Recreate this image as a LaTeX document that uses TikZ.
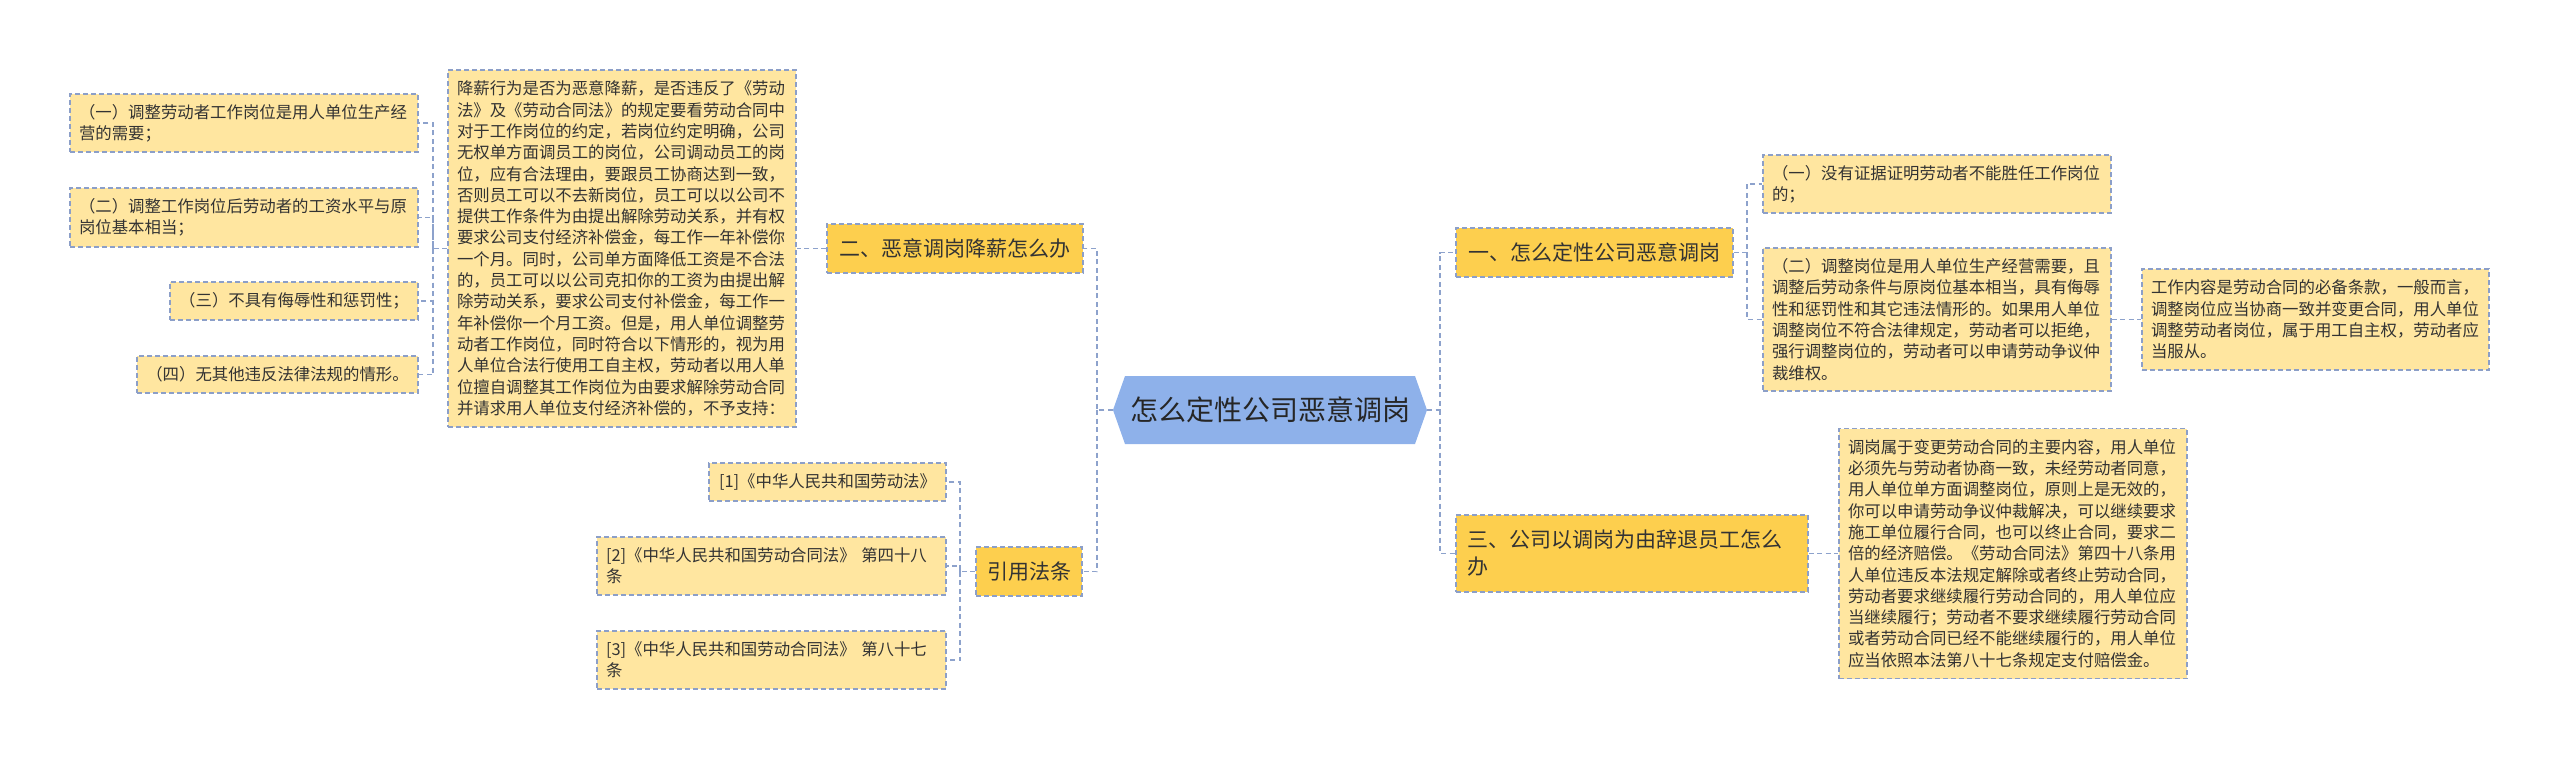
\documentclass[tikz,border=0pt]{standalone}
\usepackage{fontspec}
\setmainfont{Noto Sans CJK SC}
\definecolor{lightfill}{HTML}{FFE6A0}
\definecolor{goldfill}{HTML}{FDCF4E}
\definecolor{centerfill}{HTML}{8EB1EA}
\definecolor{bordercol}{HTML}{8C9FC8}
\definecolor{conncol}{HTML}{8DA2CC}
\definecolor{textcol}{HTML}{333333}
\tikzset{
  leafbox/.style={draw=bordercol, line width=1.2pt, dash pattern=on 5pt off 3pt,
    fill=lightfill, inner xsep=9pt, inner ysep=3pt, align=left, text=textcol,
    font=\fontsize{16.4}{21.3}\selectfont},
  branchbox/.style={leafbox, fill=goldfill, inner xsep=11pt, font=\fontsize{21}{27}\selectfont},
  conn/.style={draw=conncol, line width=1.8pt, dash pattern=on 5pt off 3.5pt},
}
\begin{document}
\begin{tikzpicture}[x=1pt,y=-1pt]
\useasboundingbox (0,0) rectangle (2560,761);
% central node
\fill[centerfill] (1113,410) -- (1125,376) -- (1415,376) -- (1427,410) -- (1415,444) -- (1125,444) -- cycle;
\node[minimum width=314pt, minimum height=68pt, inner sep=0pt, text=black!85,
  font=\fontsize{28}{34}\selectfont] (c) at (1270,410) {怎么定性公司恶意调岗};

% branches
\node[branchbox, minimum width=256pt, minimum height=49pt, align=center] (b2) at (955,248.5) {二、恶意调岗降薪怎么办};
\node[branchbox, minimum width=106pt, minimum height=49pt, inner xsep=4pt, align=center] (b4) at (1029,571.5) {引用法条};
\node[branchbox, minimum width=277pt, minimum height=49pt, align=center] (b1) at (1594.5,252.5) {一、怎么定性公司恶意调岗};
\node[branchbox, text width=330pt, minimum height=77pt] (b3) at (1632,553.5) {三、公司以调岗为由辞退员工怎么\\办};

% left big text
\node[leafbox, text width=330pt, minimum height=357pt] (big) at (622,248.5) {降薪行为是否为恶意降薪，是否违反了《劳动\\法》及《劳动合同法》的规定要看劳动合同中\\对于工作岗位的约定，若岗位约定明确，公司\\无权单方面调员工的岗位，公司调动员工的岗\\位，应有合法理由，要跟员工协商达到一致，\\否则员工可以不去新岗位，员工可以以公司不\\提供工作条件为由提出解除劳动关系，并有权\\要求公司支付经济补偿金，每工作一年补偿你\\一个月。同时，公司单方面降低工资是不合法\\的，员工可以以公司克扣你的工资为由提出解\\除劳动关系，要求公司支付补偿金，每工作一\\年补偿你一个月工资。但是，用人单位调整劳\\动者工作岗位，同时符合以下情形的，视为用\\人单位合法行使用工自主权，劳动者以用人单\\位擅自调整其工作岗位为由要求解除劳动合同\\并请求用人单位支付经济补偿的，不予支持：};

% left leaves
\node[leafbox, text width=330pt, minimum height=58pt] (L1) at (244,123) {（一）调整劳动者工作岗位是用人单位生产经\\营的需要；};
\node[leafbox, text width=330pt, minimum height=59pt] (L2) at (244,217.5) {（二）调整工作岗位后劳动者的工资水平与原\\岗位基本相当；};
\node[leafbox, minimum width=248pt, minimum height=38pt, align=center] (L3) at (294,301) {（三）不具有侮辱性和惩罚性；};
\node[leafbox, minimum width=281pt, minimum height=37pt, align=center] (L4) at (277.5,374.5) {（四）无其他违反法律法规的情形。};

% references
\node[leafbox, minimum width=237pt, minimum height=38pt, align=center] (R1) at (827.5,482) {[1]《中华人民共和国劳动法》};
\node[leafbox, text width=331pt, minimum height=58pt] (R2) at (771.5,566) {[2]《中华人民共和国劳动合同法》 第四十八\\条};
\node[leafbox, text width=331pt, minimum height=58pt] (R3) at (771.5,660) {[3]《中华人民共和国劳动合同法》 第八十七\\条};

% right leaves
\node[leafbox, text width=330pt, minimum height=58pt] (RI1) at (1937,184) {（一）没有证据证明劳动者不能胜任工作岗位\\的；};
\node[leafbox, text width=330pt, minimum height=143pt] (RI2) at (1937,319.5) {（二）调整岗位是用人单位生产经营需要，且\\调整后劳动条件与原岗位基本相当，具有侮辱\\性和惩罚性和其它违法情形的。如果用人单位\\调整岗位不符合法律规定，劳动者可以拒绝，\\强行调整岗位的，劳动者可以申请劳动争议仲\\裁维权。};
\node[leafbox, text width=329pt, minimum height=101pt] (D1) at (2315.5,319.5) {工作内容是劳动合同的必备条款，一般而言，\\调整岗位应当协商一致并变更合同，用人单位\\调整劳动者岗位，属于用工自主权，劳动者应\\当服从。};
\node[leafbox, text width=330pt, minimum height=250pt] (D3) at (2013,553.5) {调岗属于变更劳动合同的主要内容，用人单位\\必须先与劳动者协商一致，未经劳动者同意，\\用人单位单方面调整岗位，原则上是无效的，\\你可以申请劳动争议仲裁解决，可以继续要求\\施工单位履行合同，也可以终止合同，要求二\\倍的经济赔偿。《劳动合同法》第四十八条用\\人单位违反本法规定解除或者终止劳动合同，\\劳动者要求继续履行劳动合同的，用人单位应\\当继续履行；劳动者不要求继续履行劳动合同\\或者劳动合同已经不能继续履行的，用人单位\\应当依照本法第八十七条规定支付赔偿金。};

% junctions
\coordinate (jL) at (1097,410);
\coordinate (jR) at (1440,410);
\coordinate (jA) at (433,248.5);
\coordinate (jB) at (960,571.5);
\coordinate (jC) at (1747,252.5);

% connectors
\draw[conn] (c.west) -- (jL) |- (b2.east);
\draw[conn] (jL) |- (b4.east);
\draw[conn] (b2.west) -- (big.east);
\draw[conn] (big.west) -- (jA) |- (L1.east);
\draw[conn] (jA) |- (L2.east);
\draw[conn] (jA) |- (L3.east);
\draw[conn] (jA) |- (L4.east);
\draw[conn] (b4.west) -- (jB) |- (R1.east);
\draw[conn] (jB) |- (R2.east);
\draw[conn] (jB) |- (R3.east);
\draw[conn] (c.east) -- (jR) |- (b1.west);
\draw[conn] (jR) |- (b3.west);
\draw[conn] (b1.east) -- (jC) |- (RI1.west);
\draw[conn] (jC) |- (RI2.west);
\draw[conn] (RI2.east) -- (D1.west);
\draw[conn] (b3.east) -- (D3.west);
\end{tikzpicture}
\end{document}
